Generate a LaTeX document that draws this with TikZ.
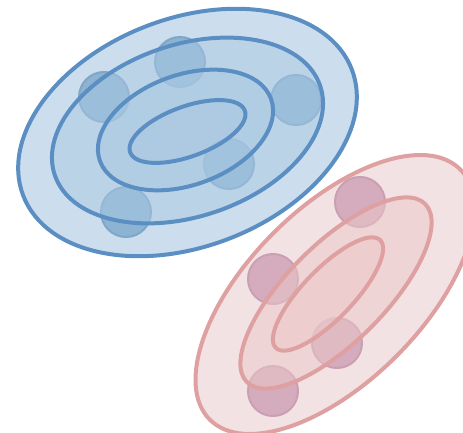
\documentclass[tikz,border=0pt]{standalone}
\definecolor{bline}{RGB}{91,143,195}
\definecolor{bouter}{RGB}{204,222,238}
\definecolor{binner}{RGB}{170,201,226}
\definecolor{bpt}{RGB}{140,179,210}
\definecolor{bptedge}{RGB}{128,166,200}
\definecolor{rline}{RGB}{222,160,160}
\definecolor{router}{RGB}{243,226,227}
\definecolor{rinner}{RGB}{237,200,201}
\definecolor{rpt}{RGB}{212,172,190}
\definecolor{rptedge}{RGB}{200,160,178}
\tikzset{
  bout/.style={fill=bouter,draw=bline,line width=4pt},
  bin/.style={fill=binner,fill opacity=0.5,draw=bline,draw opacity=1,line width=4pt},
  bdot/.style={fill=bpt,draw=bptedge,line width=2pt},
  rout/.style={fill=router,draw=rline,line width=4pt},
  rin/.style={fill=rinner,fill opacity=0.5,draw=rline,draw opacity=1,line width=4pt},
  rdot/.style={fill=rpt,draw=rptedge,line width=2pt}
}
\begin{document}
\begin{tikzpicture}[x=1pt,y=-1pt]
\useasboundingbox (0,0) rectangle (463,433);
\clip (0,0) rectangle (463,433);
% blue cluster
\coordinate (b1) at (187.5,132.5);
\coordinate (b2) at (187.5,130.5);
\coordinate (b3) at (185.5,130);
\coordinate (b4) at (187.5,131.5);
\path[bout] [rotate around={21:(b1)}] (b1) ellipse [x radius=176, y radius=114];
\coordinate (bp1) at (104,97);
\coordinate (bp2) at (180,62);
\coordinate (bp3) at (296,100);
\coordinate (bp4) at (229,164);
\coordinate (bp5) at (126,212);
\foreach \p in {bp1,bp2,bp3,bp4,bp5} \path[bdot] (\p) circle (25);
\path[bin] [rotate around={18.5:(b2)}] (b2) ellipse [x radius=140, y radius=86];
\path[bin] [rotate around={20:(b3)}] (b3) ellipse [x radius=91, y radius=55];
\path[bin] [rotate around={20:(b4)}] (b4) ellipse [x radius=61, y radius=25];
% red cluster
\coordinate (r1) at (335,294.5);
\coordinate (r2) at (336,293);
\coordinate (r3) at (328,294);
\path[rout] [rotate around={45:(r1)}] (r1) ellipse [x radius=177, y radius=87];
\coordinate (rp1) at (360,202);
\coordinate (rp2) at (273,279);
\coordinate (rp3) at (337,343);
\coordinate (rp4) at (273,391);
\foreach \p in {rp1,rp2,rp3,rp4} \path[rdot] (\p) circle (25);
\path[rin] [rotate around={45:(r2)}] (r2) ellipse [x radius=126, y radius=49];
\path[rin] [rotate around={46:(r3)}] (r3) ellipse [x radius=75, y radius=25];
\end{tikzpicture}
\end{document}
